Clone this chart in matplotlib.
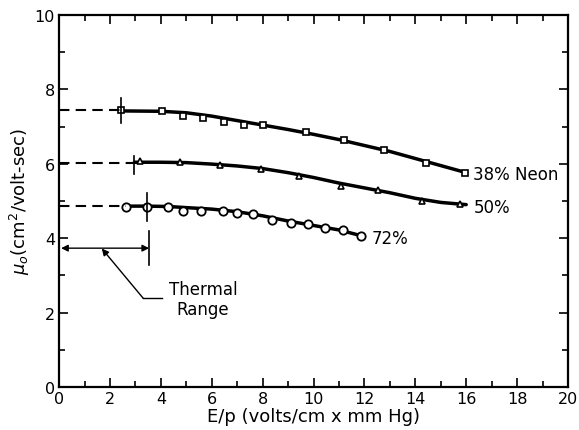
import numpy as np
import matplotlib
matplotlib.use("Agg")
import matplotlib.pyplot as plt
from matplotlib.ticker import MultipleLocator

# measured points (E/p, mobility)
neon38_x = [2.44, 4.03, 4.87, 5.66, 6.5, 7.26, 8.03, 9.69, 11.21, 12.78, 14.41, 15.97]
neon38_y = [7.44, 7.42, 7.29, 7.23, 7.13, 7.03, 7.05, 6.84, 6.64, 6.37, 6.03, 5.74]
neon50_x = [3.18, 4.75, 6.33, 7.92, 9.43, 11.07, 12.55, 14.25, 15.76]
neon50_y = [6.06, 6.04, 5.97, 5.86, 5.68, 5.41, 5.29, 5.0, 4.91]
neon72_x = [2.63, 3.45, 4.3, 4.87, 5.57, 6.43, 6.98, 7.64, 8.38, 9.12, 9.8, 10.45, 11.15, 11.86]
neon72_y = [4.85, 4.85, 4.85, 4.72, 4.73, 4.74, 4.67, 4.64, 4.5, 4.4, 4.37, 4.28, 4.22, 4.05]

# hand drawn curves through the points
fit38_x = [2.44, 4, 5, 6, 7, 8, 9, 10, 11, 12, 13, 14, 15, 16]
fit38_y = [7.42, 7.41, 7.37, 7.28, 7.16, 7.04, 6.92, 6.79, 6.65, 6.49, 6.33, 6.14, 5.95, 5.76]
fit50_x = [2.96, 4, 5, 6, 7, 8, 9, 10, 11, 12, 13, 14, 15, 16]
fit50_y = [6.04, 6.04, 6.03, 5.99, 5.94, 5.87, 5.76, 5.63, 5.48, 5.35, 5.22, 5.07, 4.96, 4.90]
fit72_x = [2.63, 3.45, 4.3, 5, 6, 7, 8, 9, 10, 11, 11.9]
fit72_y = [4.86, 4.86, 4.85, 4.82, 4.78, 4.71, 4.6, 4.46, 4.34, 4.22, 4.06]

# thermal extrapolation (dashed) levels and end of each dash
thermal_y = [7.44, 6.03, 4.86]
thermal_end = [2.44, 2.96, 2.63]

# error bars: x, low, high
err_x = [2.44, 2.96, 3.45]
err_lo = [7.09, 5.72, 4.47]
err_hi = [7.78, 6.21, 5.21]

labels = ["38% Neon", "50%", "72%"]
label_xy = [(16.25, 5.72), (16.3, 4.85), (12.3, 4.0)]

thermal_max = 3.54
thermal_arrow_y = 3.73

plt.rcParams['font.family'] = ['DejaVu Sans']
fig = plt.figure(figsize=(5.79, 4.31), dpi=100)
ax = fig.add_axes([0.102, 0.1, 0.879, 0.863])

lw = 2.5
ax.plot(fit38_x, fit38_y, color='black', lw=lw, solid_capstyle='round', solid_joinstyle='round')
ax.plot(fit50_x, fit50_y, color='black', lw=lw, solid_capstyle='round', solid_joinstyle='round')
ax.plot(fit72_x, fit72_y, color='black', lw=lw, solid_capstyle='round', solid_joinstyle='round')

ax.plot(neon38_x, neon38_y, 's', ms=4.8, mfc='white', mec='black', mew=1.2)
ax.plot(neon50_x, neon50_y, '^', ms=4.6, mfc='white', mec='black', mew=1.2)
ax.plot(neon72_x, neon72_y, 'o', ms=6.0, mfc='white', mec='black', mew=1.3)

for yy, xe in zip(thermal_y, thermal_end):
    ax.plot([0, xe], [yy, yy], color='black', lw=1.5, dashes=(5, 3))

for xx, lo, hi in zip(err_x, err_lo, err_hi):
    ax.plot([xx, xx], [lo, hi], color='black', lw=1.2)

for txt, (tx, ty) in zip(labels, label_xy):
    ax.text(tx, ty, txt, fontsize=12, va='center', ha='left')

# thermal range marker
ax.plot([thermal_max, thermal_max], [3.28, 4.19], color='black', lw=1.2)
ax.annotate('', xy=(0.08, thermal_arrow_y), xytext=(thermal_max, thermal_arrow_y),
            arrowprops=dict(arrowstyle='<|-|>', color='black', lw=1.0,
                            mutation_scale=10, shrinkA=0, shrinkB=0))
ax.plot([4.05, 3.31], [2.38, 2.38], color='black', lw=1.0)
ax.annotate('', xy=(1.68, 3.72), xytext=(3.31, 2.38),
            arrowprops=dict(arrowstyle='-|>', color='black', lw=1.0,
                            mutation_scale=10, shrinkA=0, shrinkB=0))
ax.text(5.66, 2.36, 'Thermal\nRange', fontsize=12, ha='center', va='center',
        linespacing=1.1)

ax.set_xlim(0, 20)
ax.set_ylim(0, 10)
ax.xaxis.set_major_locator(MultipleLocator(2))
ax.xaxis.set_minor_locator(MultipleLocator(1))
ax.yaxis.set_major_locator(MultipleLocator(2))
ax.yaxis.set_minor_locator(MultipleLocator(1))
ax.tick_params(which='both', direction='in', top=True, right=True, width=1.2,
               labelsize=11.5, pad=3)
ax.tick_params(which='major', length=6.5)
ax.tick_params(which='minor', length=4)
for sp in ax.spines.values():
    sp.set_linewidth(1.6)

ax.set_xlabel('E/p (volts/cm x mm Hg)', fontsize=13, labelpad=1)
ax.set_ylabel(r'$\mu_o$(cm$^2$/volt-sec)', fontsize=13, labelpad=2)

fig.savefig('out.png', dpi=100)
